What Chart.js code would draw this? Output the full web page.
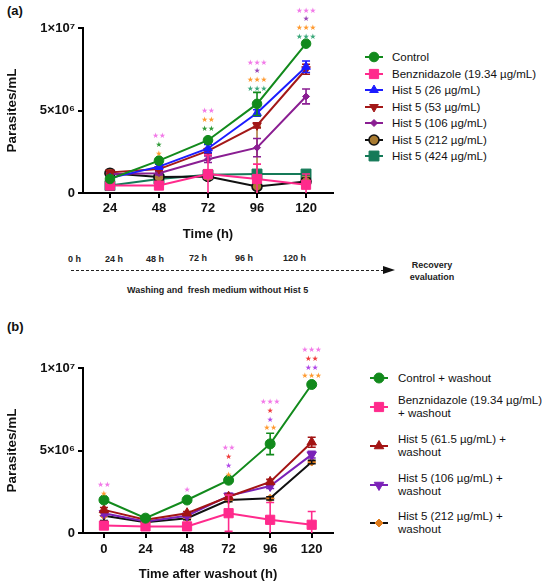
<!DOCTYPE html>
<html>
<head>
<meta charset="utf-8">
<script src="https://cdn.jsdelivr.net/npm/chart.js@4.4.1/dist/chart.umd.min.js"></script>
<style>
body { margin: 0; background: #fff; font-family: Arial, "Liberation Sans", sans-serif; }
#fig { position: relative; width: 550px; height: 586px; overflow: hidden; background: #fff; }
.abs { position: absolute; }
.panel { position: absolute; font-weight: bold; font-size: 13px; color: #111; }
.leg { position: absolute; font-size: 11.5px; color: #111; white-space: pre-line; }
.tl { position: absolute; font-weight: bold; font-size: 9px; color: #222; white-space: pre; }
</style>
</head>
<body>
<div id="fig">
  <div class="panel" style="left:7px;top:3px">(a)</div>
  <canvas id="chartA" class="abs" width="360" height="250" style="left:0;top:0"></canvas>
  <div id="legendA"></div>

  <div class="tl" style="left:68px;top:254px">0 h</div>
  <div class="tl" style="left:105px;top:254px">24 h</div>
  <div class="tl" style="left:146px;top:254px">48 h</div>
  <div class="tl" style="left:189px;top:253px">72 h</div>
  <div class="tl" style="left:235px;top:253px">96 h</div>
  <div class="tl" style="left:283px;top:253px">120 h</div>
  <div class="abs" style="left:71px;top:270px;width:312px;height:1px;background:repeating-linear-gradient(to right,#222 0 3px,transparent 3px 5px)"></div>
  <div class="abs" style="left:383px;top:266px;width:0;height:0;border-left:12px solid #111;border-top:4.5px solid transparent;border-bottom:4.5px solid transparent"></div>
  <div class="tl" style="left:398px;top:259px;width:68px;text-align:center;line-height:12px;white-space:pre-line">Recovery
evaluation</div>
  <div class="tl" style="left:127px;top:285px">Washing and  fresh medium without Hist 5</div>

  <div class="panel" style="left:7px;top:319px">(b)</div>
  <canvas id="chartB" class="abs" width="360" height="266" style="left:0;top:320px"></canvas>
  <div id="legendB"></div>
</div>

<script>
// ---- panel (a): treatment ----
var timesA = [24, 48, 72, 96, 120];
var controlA = [0.85e6, 1.96e6, 3.2e6, 5.4e6, 9.05e6];
var benzA    = [0.45e6, 0.45e6, 1.15e6, 0.85e6, 0.5e6];
var hist26A  = [0.9e6, 1.6e6, 2.7e6, 4.85e6, 7.65e6];
var hist53A  = [1.25e6, 1.45e6, 2.55e6, 4.1e6, 7.5e6];
var hist106A = [1.15e6, 1.2e6, 2.05e6, 2.75e6, 5.85e6];
var hist212A = [1.2e6, 0.97e6, 1.0e6, 0.4e6, 0.7e6];
var hist424A = [0.45e6, 0.85e6, 1.1e6, 1.15e6, 1.15e6];

var controlErrA = [0.1e6, 0.1e6, 0.1e6, 0.7e6, 0.1e6];
var benzErrA    = [0.1e6, 0.1e6, 1.15e6, 0.9e6, 0.65e6];
var hist26ErrA  = [0.1e6, 0.15e6, 0.25e6, 0.2e6, 0.35e6];
var hist53ErrA  = [0.1e6, 0.1e6, 0.15e6, 0.15e6, 0.3e6];
var hist106ErrA = [0.1e6, 0.1e6, 0.2e6, 0.55e6, 0.45e6];
var hist212ErrA = [0.1e6, 0.1e6, 0.15e6, 3.65e6, 0.3e6];
var hist424ErrA = [0.05e6, 0.1e6, 0.1e6, 0.1e6, 0.2e6];

var labelsA = ['Control', 'Benznidazole (19.34 µg/mL)', 'Hist 5 (26 µg/mL)', 'Hist 5 (53 µg/mL)',
               'Hist 5 (106 µg/mL)', 'Hist 5 (212 µg/mL)', 'Hist 5 (424 µg/mL)'];

var starsA = [
  { x: 48,  y: 2.36e6, rows: [['**', 'pink'], ['*', 'green'], ['*', 'orange']] },
  { x: 72,  y: 3.88e6, rows: [['**', 'pink'], ['**', 'orange'], ['**', 'green']] },
  { x: 96,  y: 6.3e6,  rows: [['***', 'pink'], ['*', 'purple'], ['***', 'orange'], ['***', 'sea']] },
  { x: 120, y: 9.45e6, rows: [['***', 'pink'], ['*', 'purple'], ['***', 'orange'], ['***', 'sea']] }
];

// ---- panel (b): after washout ----
var timesB = [0, 24, 48, 72, 96, 120];
var controlB = [2.0e6, 0.9e6, 2.0e6, 3.2e6, 5.4e6, 9.0e6];
var benzB    = [0.45e6, 0.4e6, 0.4e6, 1.2e6, 0.8e6, 0.5e6];
var hist61B  = [1.4e6, 0.8e6, 1.2e6, 2.2e6, 3.1e6, 5.5e6];
var hist106B = [1.2e6, 0.7e6, 1.05e6, 2.25e6, 2.85e6, 4.75e6];
var hist212B = [1.05e6, 0.65e6, 0.9e6, 2.0e6, 2.1e6, 4.3e6];

var controlErrB = [0.15e6, 0.05e6, 0.1e6, 0.1e6, 0.65e6, 0.1e6];
var benzErrB    = [0.15e6, 0.1e6, 0.1e6, 1.1e6, 1.05e6, 0.8e6];
var hist61ErrB  = [0.15e6, 0.05e6, 0.1e6, 0.15e6, 0.15e6, 0.3e6];
var hist106ErrB = [0.15e6, 0.05e6, 0.1e6, 0.15e6, 0.15e6, 0.2e6];
var hist212ErrB = [0.3e6, 0.05e6, 0.1e6, 0.1e6, 0.1e6, 0.1e6];

var labelsB = ['Control + washout', 'Benznidazole (19.34 µg/mL)\n+ washout', 'Hist 5 (61.5 µg/mL) +\nwashout',
               'Hist 5 (106 µg/mL) +\nwashout', 'Hist 5 (212 µg/mL) +\nwashout'];

var starsB = [
  { x: 0,   y: 2.38e6, rows: [['**', 'pink'], ['*', 'orange']] },
  { x: 48,  y: 2.58e6, rows: [['*', 'pink']] },
  { x: 72,  y: 3.53e6, rows: [['**', 'pink'], ['*', 'red'], ['*', 'violet'], ['*', 'orange']] },
  { x: 96,  y: 6.34e6, rows: [['***', 'pink'], ['*', 'red'], ['*', 'violet'], ['**', 'orange']] },
  { x: 120, y: 9.49e6, rows: [['***', 'pink'], ['**', 'red'], ['**', 'violet'], ['***', 'orange']] }
];

var yTicks = [0, 5e6, 1e7];
var yTickText = { 0: '0', 5000000: '5×10⁶', 10000000: '1×10⁷' };

var starColors = {
  pink: '#f27ae8', green: '#2e9a36', sea: '#3aa87a', orange: '#ff9a30',
  purple: '#9a48b8', red: '#f03a3a', violet: '#b048e8'
};

function points(xs, ys) {
  return xs.map(function (x, i) { return { x: x, y: ys[i] }; });
}

function series(label, xs, ys, errs, color, style) {
  return Object.assign({
    label: label,
    data: points(xs, ys),
    errors: errs,
    borderColor: color,
    backgroundColor: color,
    pointBackgroundColor: color,
    pointBorderColor: color,
    borderWidth: 2,
    pointBorderWidth: 1,
    pointRadius: 4.5,
    pointHoverRadius: 4.5,
    pointStyle: 'circle',
    tension: 0,
    fill: false
  }, style || {});
}

// error bars, drawn through the chart scales
var errorBars = {
  id: 'errorBars',
  afterDatasetDraw: function (chart, args) {
    var ds = chart.data.datasets[args.index];
    if (!ds.errors) return;
    var ctx = chart.ctx, xs = chart.scales.x, ys = chart.scales.y;
    ctx.save();
    ctx.strokeStyle = ds.errorColor || ds.borderColor;
    ctx.lineWidth = 1.6;
    ds.data.forEach(function (p, i) {
      var e = ds.errors[i];
      if (!e) return;
      var x = xs.getPixelForValue(p.x);
      var lowV = p.y - e;
      var top = ys.getPixelForValue(p.y + e);
      var bot = ys.getPixelForValue(Math.max(0, lowV));
      ctx.beginPath();
      ctx.moveTo(x, top); ctx.lineTo(x, bot);
      ctx.moveTo(x - 4, top); ctx.lineTo(x + 4, top);
      if (lowV > 0) { ctx.moveTo(x - 4, bot); ctx.lineTo(x + 4, bot); }
      ctx.stroke();
    });
    ctx.restore();
  }
};

// significance stars above the time points
var starMarks = {
  id: 'starMarks',
  afterDraw: function (chart, args, opts) {
    var list = opts.list;
    if (!list) return;
    var ctx = chart.ctx, xs = chart.scales.x, ys = chart.scales.y;
    ctx.save();
    ctx.font = '7.5px "DejaVu Sans"';
    ctx.textAlign = 'center';
    ctx.textBaseline = 'middle';
    list.forEach(function (a) {
      var x = xs.getPixelForValue(a.x);
      var y0 = ys.getPixelForValue(a.y);
      var n = a.rows.length;
      a.rows.forEach(function (r, i) {
        ctx.fillStyle = starColors[r[1]];
        ctx.fillText(r[0].replace(/\*/g, '★'), x, y0 - (n - 1 - i) * 8.8);
      });
    });
    ctx.restore();
  }
};

function makeChart(id, datasets, xMin, xMax, xTicks, stars, pad, xHeight, tickPad, titleText, titlePad) {
  return new Chart(document.getElementById(id), {
    type: 'line',
    data: { datasets: datasets },
    options: {
      responsive: false,
      animation: false,
      events: [],
      layout: { padding: pad },
      plugins: {
        legend: { display: false },
        tooltip: { enabled: false },
        starMarks: { list: stars }
      },
      scales: {
        x: {
          type: 'linear',
          min: xMin, max: xMax,
          afterBuildTicks: function (s) { s.ticks = xTicks.map(function (v) { return { value: v }; }); },
          afterFit: function (s) { s.height = xHeight; },
          border: { display: true, color: '#000', width: 2 },
          grid: { display: true, drawOnChartArea: false, drawTicks: true, tickLength: 5, color: '#000', lineWidth: 2 },
          ticks: {
            color: '#111', padding: tickPad, maxRotation: 0,
            font: { family: 'Arial, "Liberation Sans"', size: 13, weight: 'bold' },
            callback: function (v) { return String(v); }
          },
          title: {
            display: true, text: titleText, color: '#111',
            font: { family: 'Arial, "Liberation Sans"', size: 13, weight: 'bold' },
            padding: { top: 0, bottom: titlePad }
          }
        },
        y: {
          type: 'linear',
          min: 0, max: 1e7,
          afterBuildTicks: function (s) { s.ticks = yTicks.map(function (v) { return { value: v }; }); },
          afterFit: function (s) { s.width = 83; },
          border: { display: true, color: '#000', width: 2 },
          grid: { display: true, drawOnChartArea: false, drawTicks: true, tickLength: 5, color: '#000', lineWidth: 2 },
          ticks: {
            color: '#111', padding: 3,
            font: { family: 'Arial, "Liberation Sans"', size: 13, weight: 'bold' },
            callback: function (v) { return yTickText[v]; }
          },
          title: {
            display: true, text: 'Parasites/mL', color: '#111',
            font: { family: 'Arial, "Liberation Sans"', size: 13.5, weight: 'bold' },
            padding: { top: 4, bottom: 0 }
          }
        }
      }
    },
    plugins: [errorBars, starMarks]
  });
}

var dsA = [
  series(labelsA[0], timesA, controlA, controlErrA, '#128a1c', { pointRadius: 4.8 }),
  series(labelsA[1], timesA, benzA, benzErrA, '#ff2a8c', { pointStyle: 'rect', pointRadius: 6.5 }),
  series(labelsA[2], timesA, hist26A, hist26ErrA, '#1c1cff', { pointStyle: 'triangle', pointRadius: 5 }),
  series(labelsA[3], timesA, hist53A, hist53ErrA, '#a31818', { pointStyle: 'triangle', pointRotation: 180, pointRadius: 5 }),
  series(labelsA[4], timesA, hist106A, hist106ErrA, '#8a1e92', { pointStyle: 'rectRot', pointRadius: 3.5 }),
  series(labelsA[5], timesA, hist212A, hist212ErrA, '#111111', { pointRadius: 5, pointBackgroundColor: '#a87a30', pointBorderColor: '#111', pointBorderWidth: 1.6, errorColor: '#b08040' }),
  series(labelsA[6], timesA, hist424A, hist424ErrA, '#157a58', { pointStyle: 'rect', pointRadius: 7 })
];

var dsB = [
  series(labelsB[0], timesB, controlB, controlErrB, '#128a1c', { pointRadius: 5 }),
  series(labelsB[1], timesB, benzB, benzErrB, '#ff2a8c', { pointStyle: 'rect', pointRadius: 6.5 }),
  series(labelsB[2], timesB, hist61B, hist61ErrB, '#a31414', { pointStyle: 'triangle', pointRadius: 5.5 }),
  series(labelsB[3], timesB, hist106B, hist106ErrB, '#7b22b8', { pointStyle: 'triangle', pointRotation: 180, pointRadius: 5.5 }),
  series(labelsB[4], timesB, hist212B, hist212ErrB, '#111111', { pointStyle: 'rectRot', pointRadius: 4, pointBackgroundColor: '#e07b1a', pointBorderColor: '#e07b1a' })
];

makeChart('chartA', dsA, 10.8, 133.2, timesA, starsA, { left: 0, top: 28, right: 27, bottom: 0 }, 57, 3, 'Time (h)', 8);
makeChart('chartB', dsB, -12.1, 132.3, timesB, starsB, { left: 0, top: 48, right: 27, bottom: 0 }, 53, 4, 'Time after washout (h)', 4);

// legends: line + marker swatch and text
function drawMarker(ctx, ds, x, y) {
  var r = ds.pointRadius, s;
  ctx.fillStyle = ds.pointBackgroundColor;
  ctx.strokeStyle = ds.pointBorderColor;
  ctx.lineWidth = ds.pointBorderWidth;
  ctx.beginPath();
  if (ds.pointStyle === 'rect') {
    s = Math.SQRT1_2 * r;
    ctx.rect(x - s, y - s, 2 * s, 2 * s);
  } else if (ds.pointStyle === 'rectRot') {
    ctx.moveTo(x, y - r); ctx.lineTo(x + r, y); ctx.lineTo(x, y + r); ctx.lineTo(x - r, y); ctx.closePath();
  } else if (ds.pointStyle === 'triangle') {
    var d = ds.pointRotation === 180 ? -1 : 1;
    var w = r * 0.866;
    ctx.moveTo(x, y - d * r); ctx.lineTo(x + w, y + d * r * 0.5); ctx.lineTo(x - w, y + d * r * 0.5); ctx.closePath();
  } else {
    ctx.arc(x, y, r, 0, Math.PI * 2);
  }
  ctx.fill();
  ctx.stroke();
}

function buildLegend(holder, datasets, centers, swatchLeft, textLeft, lineH) {
  var el = document.getElementById(holder);
  datasets.forEach(function (ds, i) {
    var c = centers[i];
    var cv = document.createElement('canvas');
    cv.width = 22; cv.height = 16;
    cv.className = 'abs';
    cv.style.left = swatchLeft + 'px';
    cv.style.top = (c - 8) + 'px';
    var ctx = cv.getContext('2d');
    ctx.strokeStyle = ds.borderColor;
    ctx.lineWidth = 2;
    ctx.beginPath(); ctx.moveTo(2, 8); ctx.lineTo(20, 8); ctx.stroke();
    drawMarker(ctx, ds, 11, 8);
    el.appendChild(cv);

    var t = document.createElement('div');
    t.className = 'leg';
    var lines = ds.label.split('\n').length;
    t.style.left = textLeft + 'px';
    t.style.lineHeight = lineH + 'px';
    t.style.top = (c - lines * lineH / 2) + 'px';
    t.textContent = ds.label;
    el.appendChild(t);
  });
}

buildLegend('legendA', dsA, [57, 73.5, 90, 106.5, 123, 139.5, 156], 363, 392, 14);
buildLegend('legendB', dsB, [378, 407, 445.5, 484.5, 523], 368, 398, 13);
</script>
</body>
</html>
